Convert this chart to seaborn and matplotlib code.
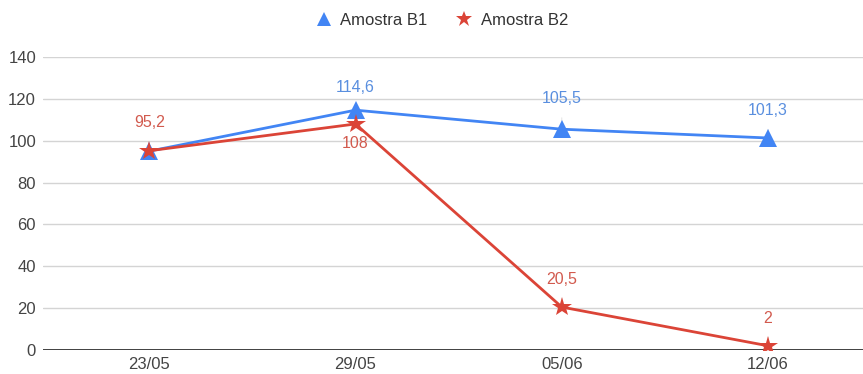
import matplotlib
matplotlib.use("Agg")
import matplotlib.pyplot as plt
import seaborn as sns
import pandas as pd
from matplotlib.lines import Line2D

dates = ["23/05", "29/05", "05/06", "12/06"]
amostra_b1 = [95.0, 114.6, 105.5, 101.3]
amostra_b2 = [95.2, 108.0, 20.5, 2.0]
series_names = ["Amostra B1", "Amostra B2"]
y_ticks = [0, 20, 40, 60, 80, 100, 120, 140]

# label placement per point: vertical offset in points (None = hidden)
b1_label_offsets = [None, 16, 22, 20]
b2_label_offsets = [20, -14, 20, 20]

blue = "#4285F4"
red = "#DB4437"
blue_txt = "#5a8fdf"
red_txt = "#d25a4e"

df = pd.DataFrame({
    "data": dates * 2,
    "valor": amostra_b1 + amostra_b2,
    "serie": [series_names[0]] * len(dates) + [series_names[1]] * len(dates),
})

sns.set_theme(style="white")
plt.rcParams["font.family"] = ["Liberation Sans", "DejaVu Sans"]

fig = plt.figure(figsize=(8.63, 3.74), dpi=100)
ax = fig.add_axes([0.0498, 0.0642, 0.9502, 0.7834])

sns.lineplot(
    data=df, x="data", y="valor", hue="serie", style="serie",
    palette={series_names[0]: blue, series_names[1]: red},
    markers={series_names[0]: "^", series_names[1]: "*"},
    dashes=False, linewidth=2.0, markersize=13, markeredgewidth=0,
    legend=False, ax=ax, sort=False,
)

# make the star marker a bit larger than the triangle
for line in ax.get_lines():
    if line.get_marker() == "*":
        line.set_markersize(15)

ax.set_xlim(-0.515, 3.46)
ax.set_ylim(0, 140)
ax.set_yticks(y_ticks)
ax.set_yticklabels([str(t) for t in y_ticks])
ax.set_xlabel("")
ax.set_ylabel("")
ax.grid(axis="y", color="#d4d4d4", linewidth=1.0)
ax.grid(axis="x", visible=False)
ax.axhline(0, color="#333333", linewidth=1.3, zorder=1.5)
for s in ax.spines.values():
    s.set_visible(False)
ax.tick_params(axis="y", length=0, pad=5, labelsize=12, labelcolor="#444444")
ax.tick_params(axis="x", length=0, pad=5, labelsize=12, labelcolor="#444444")


def fmt(v):
    return (f"{v:.1f}".rstrip("0").rstrip(".")).replace(".", ",")


def annotate_series(values, offsets, color):
    for i, (v, off) in enumerate(zip(values, offsets)):
        if off is None:
            continue
        ax.annotate(
            fmt(v), xy=(i, v), xytext=(0, off), textcoords="offset points",
            ha="center", va="center", fontsize=11.5, color=color,
            arrowprops=dict(arrowstyle="-", color="#dddddd", lw=0.6,
                            shrinkA=6, shrinkB=5),
            zorder=1,
        )


annotate_series(amostra_b1, b1_label_offsets, blue_txt)
annotate_series(amostra_b2, b2_label_offsets, red_txt)

handles = [
    Line2D([], [], linestyle="none", marker="^", color=blue, markersize=10,
           markeredgewidth=0),
    Line2D([], [], linestyle="none", marker="*", color=red, markersize=12,
           markeredgewidth=0),
]
fig.legend(handles, series_names, loc="center", bbox_to_anchor=(0.511, 0.946),
           ncol=2, frameon=False, fontsize=12, handletextpad=0.4,
           columnspacing=1.6, labelcolor="#333333", handlelength=1.2)

fig.savefig("out.png", dpi=100)
